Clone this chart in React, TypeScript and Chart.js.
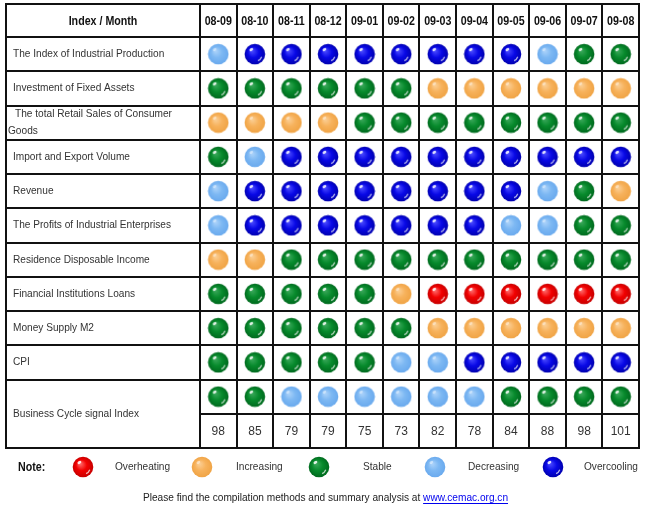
import React, { useEffect, useRef } from 'react';
import { Chart, registerables } from 'chart.js';

Chart.register(...registerables);

// ---------------- data ----------------
const months = ['08-09', '08-10', '08-11', '08-12', '09-01', '09-02', '09-03', '09-04', '09-05', '09-06', '09-07', '09-08'];

const indicators = [
  'The Index of Industrial Production',
  'Investment of Fixed Assets',
  'The total Retail Sales of Consumer Goods',
  'Import and Export Volume',
  'Revenue',
  'The Profits of Industrial Enterprises',
  'Residence Disposable Income',
  'Financial Institutions Loans',
  'Money Supply M2',
  'CPI',
  'Business Cycle signal Index',
];
const valueRowLabel = 'Signal index value';

// H = Overheating, I = Increasing, S = Stable, D = Decreasing, C = Overcooling
const industrialProduction = ['D', 'C', 'C', 'C', 'C', 'C', 'C', 'C', 'C', 'D', 'S', 'S'];
const fixedAssets = ['S', 'S', 'S', 'S', 'S', 'S', 'I', 'I', 'I', 'I', 'I', 'I'];
const retailSales = ['I', 'I', 'I', 'I', 'S', 'S', 'S', 'S', 'S', 'S', 'S', 'S'];
const importExport = ['S', 'D', 'C', 'C', 'C', 'C', 'C', 'C', 'C', 'C', 'C', 'C'];
const revenue = ['D', 'C', 'C', 'C', 'C', 'C', 'C', 'C', 'C', 'D', 'S', 'I'];
const industrialProfits = ['D', 'C', 'C', 'C', 'C', 'C', 'C', 'C', 'D', 'D', 'S', 'S'];
const disposableIncome = ['I', 'I', 'S', 'S', 'S', 'S', 'S', 'S', 'S', 'S', 'S', 'S'];
const loans = ['S', 'S', 'S', 'S', 'S', 'I', 'H', 'H', 'H', 'H', 'H', 'H'];
const moneySupply = ['S', 'S', 'S', 'S', 'S', 'S', 'I', 'I', 'I', 'I', 'I', 'I'];
const cpi = ['S', 'S', 'S', 'S', 'S', 'D', 'D', 'C', 'C', 'C', 'C', 'C'];
const businessCycle = ['S', 'S', 'D', 'D', 'D', 'D', 'D', 'D', 'S', 'S', 'S', 'S'];
const cycleIndex = [98, 85, 79, 79, 75, 73, 82, 78, 84, 88, 98, 101];

const signalRows = [
  industrialProduction, fixedAssets, retailSales, importExport, revenue,
  industrialProfits, disposableIncome, loans, moneySupply, cpi, businessCycle,
];

const statusCodes = ['H', 'I', 'S', 'D', 'C'];
const statusNames = ['Overheating', 'Increasing', 'Stable', 'Decreasing', 'Overcooling'];

const noteLabel = 'Note:';
const headerLabel = 'Index / Month';
const footText = 'Please find the compilation methods and summary analysis at ';
const footLink = 'www.cemac.org.cn';

// ---------------- styles ----------------
const ballStyles: Record<string, { base: string; light: string; dark: string; gloss: boolean }> = {
  H: { base: '#f20000', light: '#ff6a6a', dark: '#c80000', gloss: true },
  I: { base: '#f7b25c', light: '#fbcf95', dark: '#f0a445', gloss: false },
  S: { base: '#078a2c', light: '#3aa85a', dark: '#006a1e', gloss: true },
  D: { base: '#7db8f3', light: '#acd3fa', dark: '#6aaaee', gloss: false },
  C: { base: '#0808e6', light: '#4a4aff', dark: '#0000b0', gloss: true },
};

function makeBall(code: string): HTMLCanvasElement {
  const st = ballStyles[code];
  const s = 22;
  const c = document.createElement('canvas');
  c.width = s;
  c.height = s;
  const g = c.getContext('2d')!;
  const cx = 11, cy = 11, r = 10.3;
  const grad = g.createRadialGradient(cx - 3, cy - 3.5, 0.5, cx, cy, r);
  grad.addColorStop(0, st.light);
  grad.addColorStop(0.5, st.base);
  grad.addColorStop(1, st.dark);
  g.fillStyle = grad;
  g.beginPath();
  g.arc(cx, cy, r, 0, Math.PI * 2);
  g.fill();
  if (st.gloss) {
    g.fillStyle = 'rgba(255,255,255,0.85)';
    g.beginPath();
    g.ellipse(cx - 3.6, cy - 4.6, 2.1, 1.4, -0.6, 0, Math.PI * 2);
    g.fill();
    g.strokeStyle = 'rgba(255,255,255,0.7)';
    g.lineWidth = 1.3;
    g.beginPath();
    g.arc(cx, cy, r - 3, 0.12 * Math.PI, 0.36 * Math.PI);
    g.stroke();
  } else {
    g.fillStyle = 'rgba(255,255,255,0.45)';
    g.beginPath();
    g.ellipse(cx - 3.6, cy - 4.6, 2.0, 1.3, -0.6, 0, Math.PI * 2);
    g.fill();
  }
  return c;
}

const TEXT_FONT = '11px "Liberation Sans", Arial, sans-serif';
const BOLD_FONT = 'bold 13px "Liberation Sans Narrow", "Liberation Sans", Arial, sans-serif';
const NUM_FONT = '12px "Liberation Sans", Arial, sans-serif';

function drawText(
  ctx: CanvasRenderingContext2D, text: string, x: number, y: number,
  font: string, color: string, align: 'left' | 'center', sx: number,
): number {
  ctx.save();
  ctx.font = font;
  ctx.fillStyle = color;
  ctx.textBaseline = 'middle';
  ctx.textAlign = 'left';
  const w = ctx.measureText(text).width * sx;
  const left = align === 'center' ? x - w / 2 : x;
  ctx.translate(left, y);
  ctx.scale(sx, 1);
  ctx.fillText(text, 0, 0);
  ctx.restore();
  return w;
}

function textWidth(ctx: CanvasRenderingContext2D, text: string, font: string, sx: number) {
  ctx.save();
  ctx.font = font;
  const w = ctx.measureText(text).width * sx;
  ctx.restore();
  return w;
}

function wrap(ctx: CanvasRenderingContext2D, text: string, maxW: number, font: string, sx: number): string[] {
  const words = text.split(' ');
  const lines: string[] = [];
  let cur = '';
  for (const w of words) {
    const t = cur ? cur + ' ' + w : w;
    if (textWidth(ctx, t, font, sx) > maxW && cur) {
      lines.push(cur);
      cur = w;
    } else cur = t;
  }
  if (cur) lines.push(cur);
  return lines;
}

function makeTablePlugin(balls: Record<string, HTMLCanvasElement>) {
  const narrowSx = 0.82;
  const textSx = 0.92;
  return {
    id: 'signalTable',
    beforeDraw(chart: any) {
      const ctx = chart.ctx as CanvasRenderingContext2D;
      ctx.save();
      ctx.fillStyle = '#ffffff';
      ctx.fillRect(0, 0, chart.width, chart.height);
      ctx.restore();
    },
    beforeDatasetsDraw(chart: any) {
      const ctx = chart.ctx as CanvasRenderingContext2D;
      const xs = chart.scales.x;
      const ys = chart.scales.y;
      const colW = xs.getPixelForValue(1) - xs.getPixelForValue(0);
      const rowH = ys.getPixelForValue(1) - ys.getPixelForValue(0);
      const tableLeft = 6;
      const tableTop = 4;
      const labelRight = Math.round(xs.left);
      const right = Math.round(xs.right);
      const bottom = Math.round(ys.bottom);
      const headBottom = Math.round(ys.top);

      // grid lines
      ctx.save();
      ctx.strokeStyle = '#111111';
      ctx.lineWidth = 2;
      ctx.beginPath();
      const hLine = (y: number, x0: number, x1: number) => {
        ctx.moveTo(x0 - 1, y);
        ctx.lineTo(x1 + 1, y);
      };
      const vLine = (x: number, y0: number, y1: number) => {
        ctx.moveTo(x, y0 - 1);
        ctx.lineTo(x, y1 + 1);
      };
      hLine(tableTop, tableLeft, right);
      hLine(headBottom, tableLeft, right);
      const nRows = indicators.length + 1;
      for (let i = 1; i < nRows; i++) {
        const yb = Math.round(ys.getPixelForValue(i) - rowH / 2);
        const isValueRow = i === nRows - 1;
        hLine(yb, isValueRow ? labelRight : tableLeft, right);
      }
      hLine(bottom, tableLeft, right);
      vLine(tableLeft, tableTop, bottom);
      vLine(labelRight, tableTop, bottom);
      for (let j = 1; j < months.length; j++) {
        const xb = Math.round(xs.getPixelForValue(j) - colW / 2);
        vLine(xb, tableTop, bottom);
      }
      vLine(right, tableTop, bottom);
      ctx.stroke();
      ctx.restore();

      // header
      const headY = (tableTop + headBottom) / 2 + 0.5;
      drawText(ctx, headerLabel, (tableLeft + labelRight) / 2, headY, BOLD_FONT, '#111', 'center', narrowSx);
      months.forEach((m, j) => {
        drawText(ctx, m, xs.getPixelForValue(j), headY, BOLD_FONT, '#111', 'center', narrowSx);
      });

      // row labels
      indicators.forEach((name, i) => {
        let cy = ys.getPixelForValue(i);
        if (i === indicators.length - 1) cy = (ys.getPixelForValue(i) + ys.getPixelForValue(i + 1)) / 2;
        const lines = wrap(ctx, name, 178, TEXT_FONT, textSx);
        if (lines.length === 1) {
          drawText(ctx, name, 13, cy, TEXT_FONT, '#333', 'left', textSx);
        } else {
          const lh = 17;
          lines.forEach((ln, k) => {
            const yy = cy - ((lines.length - 1) * lh) / 2 + k * lh;
            drawText(ctx, ln, k === 0 ? 15 : 8, yy, TEXT_FONT, '#333', 'left', textSx);
          });
        }
      });

      // index values
      cycleIndex.forEach((v, j) => {
        drawText(ctx, String(v), xs.getPixelForValue(j), ys.getPixelForValue(valueRowLabel) + 0.5, NUM_FONT, '#333', 'center', 1);
      });
    },
    afterDraw(chart: any) {
      const ctx = chart.ctx as CanvasRenderingContext2D;
      // legend
      const ly = 467;
      drawText(ctx, noteLabel, 18, ly, BOLD_FONT, '#111', 'left', narrowSx);
      const ballX = [83, 202, 319, 435, 553];
      const labelX = [115, 236, 363, 468, 584];
      statusCodes.forEach((code, k) => {
        ctx.drawImage(balls[code], ballX[k] - 11, ly - 11);
        drawText(ctx, statusNames[k], labelX[k], ly, TEXT_FONT, '#333', 'left', textSx);
      });
      // footnote
      const fy = 498;
      const w1 = textWidth(ctx, footText, TEXT_FONT, textSx);
      const w2 = textWidth(ctx, footLink, TEXT_FONT, textSx);
      const start = 325.5 - (w1 + w2) / 2;
      drawText(ctx, footText, start, fy, TEXT_FONT, '#222', 'left', textSx);
      drawText(ctx, footLink, start + w1, fy, TEXT_FONT, '#0000ee', 'left', textSx);
      ctx.save();
      ctx.strokeStyle = '#0000ee';
      ctx.lineWidth = 1;
      ctx.beginPath();
      ctx.moveTo(start + w1, fy + 5.5);
      ctx.lineTo(start + w1 + w2, fy + 5.5);
      ctx.stroke();
      ctx.restore();
    },
  };
}

export default function App() {
  const ref = useRef<HTMLCanvasElement>(null);

  useEffect(() => {
    if (!ref.current) return;
    const balls: Record<string, HTMLCanvasElement> = {};
    statusCodes.forEach((c) => { balls[c] = makeBall(c); });

    const datasets = statusCodes.map((code, k) => {
      const data: { x: string; y: string }[] = [];
      signalRows.forEach((row, i) => {
        row.forEach((s, j) => {
          if (s === code) data.push({ x: months[j], y: indicators[i] });
        });
      });
      return {
        label: statusNames[k],
        data,
        pointStyle: balls[code],
        pointRadius: 10,
        pointHoverRadius: 10,
        showLine: false,
      };
    });

    const chart = new Chart(ref.current, {
      type: 'scatter',
      data: { datasets: datasets as any },
      options: {
        responsive: false,
        animation: false,
        events: [],
        layout: { padding: { left: 200, right: 5, top: 37, bottom: 62 } },
        scales: {
          x: { type: 'category', labels: months, offset: true, display: false },
          y: { type: 'category', labels: [...indicators, valueRowLabel], offset: true, display: false },
        },
        plugins: {
          legend: { display: false },
          tooltip: { enabled: false },
        },
      } as any,
      plugins: [makeTablePlugin(balls) as any],
    });
    return () => chart.destroy();
  }, []);

  return (
    <div style={{ position: 'absolute', left: 0, top: 0, width: 650, height: 510, background: '#fff' }}>
      <canvas ref={ref} width={650} height={510} style={{ display: 'block', width: 650, height: 510 }} />
    </div>
  );
}
